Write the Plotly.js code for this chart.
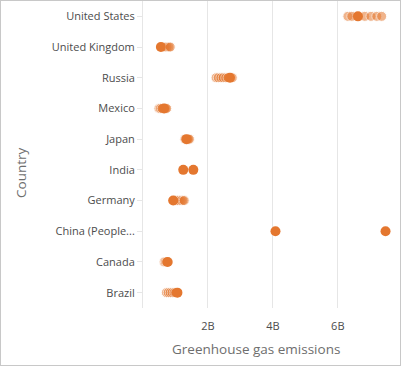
<!DOCTYPE html>
<html>
<head>
<meta charset="utf-8">
<script src="https://cdn.plot.ly/plotly-3.0.1.min.js"></script>
<style>
html,body{margin:0;padding:0;background:#fff;}
#chart{width:399px;height:364px;border:1px solid #c8c8c8;}
</style>
</head>
<body>
<div id="chart"></div>
<script>
// Categories (bottom to top)
var countries = ["Brazil", "Canada", "China (People...", "Germany", "India", "Japan", "Mexico", "Russia", "United Kingdom", "United States"];
// Highlighted (solid) value per country, in tonnes
var highlighted = [1.06e9, 0.76e9, 4.08e9, 0.93e9, 1.24e9, 1.34e9, 0.65e9, 2.68e9, 0.55e9, 6.62e9];
// Other values per country (faded)
var brazilOther  = [0.72e9, 0.78e9, 0.84e9, 0.90e9, 0.96e9, 1.01e9];
var canadaOther  = [0.65e9, 0.69e9, 0.73e9];
var chinaOther   = [7.47e9];
var germanyOther = [1.00e9, 1.06e9, 1.12e9, 1.18e9, 1.23e9, 1.27e9];
var indiaOther   = [1.55e9];
var japanOther   = [1.29e9, 1.32e9, 1.37e9, 1.40e9, 1.43e9];
var mexicoOther  = [0.49e9, 0.54e9, 0.59e9, 0.70e9, 0.73e9];
var russiaOther  = [2.25e9, 2.32e9, 2.40e9, 2.47e9, 2.55e9, 2.62e9, 2.75e9];
var ukOther      = [0.62e9, 0.68e9, 0.74e9, 0.80e9, 0.84e9];
var usOther      = [6.31e9, 6.43e9, 6.83e9, 7.02e9, 7.20e9, 7.35e9];
var tickVals = [2e9, 4e9, 6e9];
var tickText = ["2B", "4B", "6B"];

var others = [brazilOther, canadaOther, chinaOther, germanyOther, indiaOther, japanOther, mexicoOther, russiaOther, ukOther, usOther];
var solidSet = {"China (People...": true, "India": true};

var fx = [], fy = [], sx = [], sy = [];
others.forEach(function (arr, i) {
  arr.forEach(function (v) {
    if (solidSet[countries[i]]) { sx.push(v); sy.push(countries[i]); }
    else { fx.push(v); fy.push(countries[i]); }
  });
});
countries.forEach(function (c, i) { sx.push(highlighted[i]); sy.push(c); });

var orange = "#e4772f";
var traces = [
  {type: "scatter", mode: "markers", x: fx, y: fy, hoverinfo: "x+y",
   marker: {size: 10, color: orange, opacity: 0.55, line: {color: "#ffffff", width: 1}}},
  {type: "scatter", mode: "markers", x: sx, y: sy, hoverinfo: "x+y",
   marker: {size: 10, color: orange, opacity: 1, line: {width: 0}}}
];

var titleFont = {family: "Open Sans, sans-serif", size: 13.5, color: "#6e6e6e"};
var layout = {
  width: 399, height: 364,
  margin: {l: 142, r: 7, t: 0, b: 57},
  paper_bgcolor: "#ffffff", plot_bgcolor: "#ffffff",
  showlegend: false,
  font: {family: "Open Sans, sans-serif", color: "#4c4c4c", size: 11},
  xaxis: {
    range: [0, 7.7e9], tickvals: tickVals, ticktext: tickText,
    showgrid: true, gridcolor: "#e6e6e6", gridwidth: 1,
    zeroline: false, showline: false,
    ticks: "outside", ticklen: 8, tickcolor: "rgba(0,0,0,0)",
    tickfont: {size: 11, color: "#4c4c4c"}
  },
  yaxis: {
    type: "category", categoryorder: "array", categoryarray: countries,
    range: [-0.5, 9.5],
    showgrid: false, zeroline: false,
    showline: true, linecolor: "#e6e6e6", linewidth: 1,
    ticks: "outside", ticklen: 5, tickcolor: "#e6e6e6",
    tickfont: {size: 11, color: "#4c4c4c"}
  },
  annotations: [
    {text: "Greenhouse gas emissions", xref: "paper", yref: "paper",
     x: 0.452, y: -0.134, xanchor: "center", yanchor: "middle", showarrow: false, font: titleFont},
    {text: "Country", xref: "paper", yref: "paper", textangle: -90,
     x: -0.488, y: 0.44, xanchor: "center", yanchor: "middle", showarrow: false, font: titleFont}
  ]
};

Plotly.newPlot("chart", traces, layout, {displayModeBar: false, staticPlot: true});
</script>
</body>
</html>
